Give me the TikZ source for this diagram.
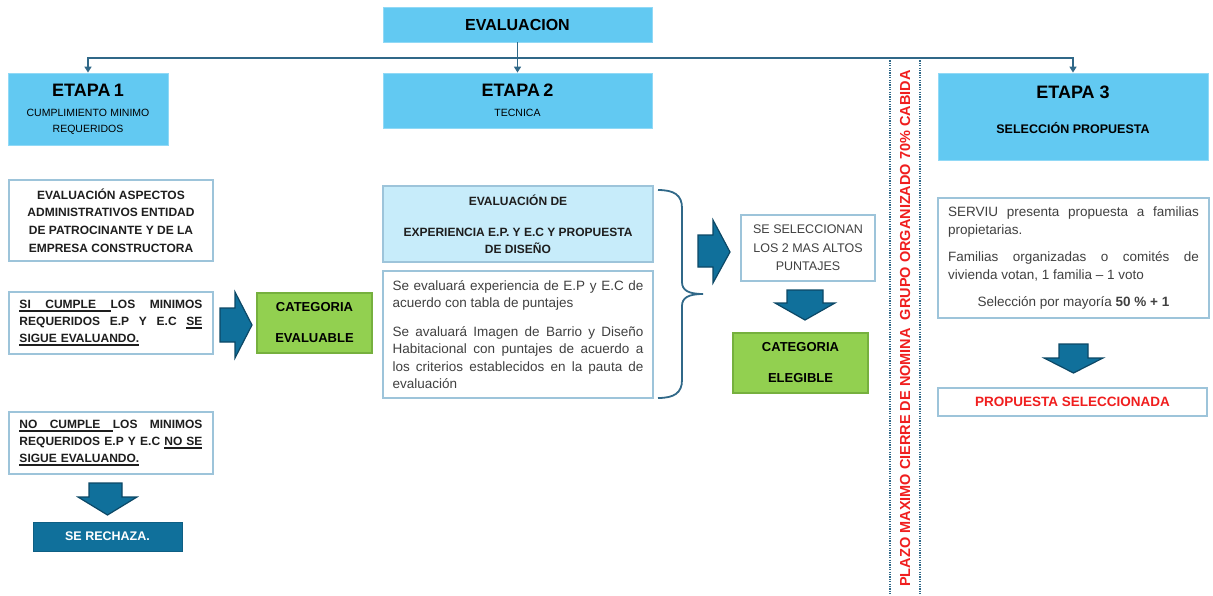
\documentclass[tikz,border=0pt]{standalone}
\usepackage{fontspec}
\setmainfont{Liberation Sans}
\usetikzlibrary{positioning, arrows.meta, calc}
\hyphenpenalty=10000
\exhyphenpenalty=10000

\definecolor{headblue}{RGB}{98,201,242}
\definecolor{lightcyan}{RGB}{199,236,250}
\definecolor{boxline}{RGB}{157,196,218}
\definecolor{evalgreen}{RGB}{146,208,80}
\definecolor{greenline}{RGB}{118,176,62}
\definecolor{arrowblue}{RGB}{16,112,155}
\definecolor{arrowdark}{RGB}{12,72,102}
\definecolor{linkblue}{RGB}{48,104,136}
\definecolor{plazored}{RGB}{240,30,30}
\definecolor{textgray}{RGB}{64,64,64}
\definecolor{titlegray}{RGB}{30,30,30}

% subrayado que sigue a los espacios estirados
\newcommand\ulword[1]{\leavevmode\setbox0\hbox{#1}\rlap{\vrule height -1.6pt depth 2.8pt width \wd0}\box0}
\newcommand\ulgap{\leaders\hrule height -1.6pt depth 2.8pt\hfill}
\newcommand\fullline[1]{\leavevmode\hbox to \linewidth{#1}\par}

\tikzset{
  headbox/.style={fill=headblue, draw=headblue!70!white, line width=0.8pt, align=center, text=black},
  textbox/.style={draw=boxline, line width=1.3pt, fill=white, text=titlegray},
  greenbox/.style={fill=evalgreen, draw=greenline, line width=1.2pt, align=center, text=black,
    font=\fontsize{13}{17}\selectfont\bfseries},
  blockarrow/.style={fill=arrowblue, draw=arrowdark, line width=1.2pt},
  link/.style={draw=linkblue, line width=1.8pt},
  linkarrow/.style={link, -{Triangle[length=6pt, width=7pt]}},
  plazoline/.style={draw=linkblue, line width=1.6pt, dash pattern=on 1.2pt off 1.2pt},
}

\begin{document}
\begin{tikzpicture}[x=1pt, y=-1pt, every node/.style={inner sep=0pt}]
    \useasboundingbox (0,0) rectangle (1213,595);

    % cabecera
    \node[headbox, minimum width=269pt, minimum height=35pt, font=\fontsize{16}{19}\selectfont\bfseries] (eval) at (517.5,24.5) {EVALUACION};
    \node[headbox, minimum width=160pt, minimum height=72pt, text width=150pt] (etapa1) at (88,109)
        {{\fontsize{18}{21}\selectfont\bfseries ETAPA 1\par}\vspace{4.3pt}{\fontsize{10.5}{16}\selectfont CUMPLIMIENTO MINIMO\\REQUERIDOS\par}};
    \node[headbox, minimum width=269pt, minimum height=55pt, text width=259pt] (etapa2) at (517.5,100.5)
        {{\fontsize{18}{21}\selectfont\bfseries ETAPA 2\par}\vspace{4pt}{\fontsize{10.5}{16}\selectfont TECNICA\par}};
    \node[headbox, minimum width=270pt, minimum height=87pt] (etapa3) at (1073,116.5) {};
    \node[anchor=base, font=\fontsize{18}{21}\selectfont\bfseries] (etapa3title) at (1073,98.5) {ETAPA 3};
    \node[anchor=base, font=\fontsize{12.5}{14}\selectfont\bfseries] (etapa3sub) at (1073,133.5) {SELECCIÓN PROPUESTA};

    \coordinate (split) at (517.5,58);
    \draw[link] (eval.south) -- (split);
    \draw[linkarrow] (split) -- (etapa2.north);
    \draw[linkarrow] (split) -| (etapa1.north);
    \draw[linkarrow] (split) -| (etapa3.north);

    % etapa 1
    \node[textbox, minimum width=204pt, minimum height=81pt, align=center, font=\fontsize{12}{17.7}\selectfont\bfseries] (admin) at (111,220.5)
        {EVALUACIÓN ASPECTOS\\ADMINISTRATIVOS ENTIDAD\\DE PATROCINANTE Y DE LA\\EMPRESA CONSTRUCTORA};
    \node[textbox, minimum width=204pt, minimum height=62pt, text width=183pt, align=left, font=\fontsize{12}{17}\selectfont\bfseries] (sicumple) at (111,323)
        {\fullline{\ulword{SI}\ulgap\ulword{CUMPLE}\ulgap LOS\hfill MINIMOS}
         \fullline{REQUERIDOS\hfill E.P\hfill Y\hfill E.C\hfill \ulword{SE}}
         \ulword{SIGUE EVALUANDO.}\par};
    \node[greenbox, minimum width=115pt, minimum height=60pt] (evaluable) at (314.5,323) {CATEGORIA\\[14pt]EVALUABLE};
    \draw[blockarrow] (220,308) -- (235,308) -- (235,292) -- (252,325) -- (235,358) -- (235,342) -- (220,342) -- cycle;

    \node[textbox, minimum width=204pt, minimum height=62pt, text width=183pt, align=left, font=\fontsize{12}{17}\selectfont\bfseries] (nocumple) at (111,443)
        {\fullline{\ulword{NO}\ulgap\ulword{CUMPLE}\ulgap LOS\hfill MINIMOS}
         \fullline{REQUERIDOS\hfill E.P\hfill Y\hfill E.C\hfill \ulword{NO SE}}
         \ulword{SIGUE EVALUANDO.}\par};
    \draw[blockarrow] (89,483) -- (122,483) -- (122,497) -- (137,497) -- (107.5,515) -- (78,497) -- (89,497) -- cycle;
    \node[fill=arrowblue, draw=arrowblue!85!black, line width=0.8pt, minimum width=149pt, minimum height=29pt, text=white, font=\fontsize{12.5}{15}\selectfont\bfseries] (rechaza) at (107.5,536.5) {SE RECHAZA.};

    % etapa 2
    \node[textbox, fill=lightcyan, minimum width=270pt, minimum height=76pt, align=center, font=\fontsize{12}{17}\selectfont\bfseries] (experiencia) at (518,224)
        {EVALUACIÓN DE\\[14pt]EXPERIENCIA E.P. Y E.C Y PROPUESTA\\DE DISEÑO};
    \node[textbox, minimum width=270pt, minimum height=127pt, text width=251pt, align=justify, text=textgray, font=\fontsize{13.5}{17.3}\selectfont] (puntajes) at (518,334.5)
        {Se evaluará experiencia de E.P y E.C de acuerdo con tabla de puntajes\par\vspace{11.5pt}
         Se avaluará Imagen de Barrio y Diseño Habitacional con puntajes de acuerdo a los criterios establecidos en la pauta de evaluación};
    \draw[link] (658,190) .. controls (674,190) and (682,195) .. (682,208) -- (682,282)
        .. controls (682,290) and (688,294) .. (703,294)
        .. controls (688,294) and (682,298) .. (682,306) -- (682,380)
        .. controls (682,393) and (674,398) .. (658,398);
    \draw[blockarrow] (698,235) -- (713,235) -- (713,220) -- (730,252) -- (713,283) -- (713,267) -- (698,267) -- cycle;
    \node[textbox, minimum width=134pt, minimum height=66pt, align=center, text=textgray, font=\fontsize{12.5}{18.5}\selectfont] (seleccionan) at (808,248)
        {SE SELECCIONAN\\LOS 2 MAS ALTOS\\PUNTAJES};
    \draw[blockarrow] (787,290) -- (823,290) -- (823,303) -- (835,303) -- (805,320) -- (775,303) -- (787,303) -- cycle;
    \node[greenbox, minimum width=135pt, minimum height=60pt] (elegible) at (800.5,363) {CATEGORIA\\[14pt]ELEGIBLE};

    % plazo
    \draw[plazoline] (890,58) -- (890,595);
    \draw[plazoline] (920,58) -- (920,595);
    \node[rotate=90, text=plazored, font=\fontsize{14.5}{17}\selectfont\bfseries] (plazo) at (905,328.5)
        {PLAZO MAXIMO CIERRE DE NOMINA\ \ GRUPO ORGANIZADO 70\% CABIDA};

    % etapa 3
    \node[textbox, minimum width=271pt, minimum height=120pt, text width=251pt, align=justify, text=textgray, font=\fontsize{13.5}{18}\selectfont] (serviu) at (1073.5,258)
        {SERVIU presenta propuesta a familias propietarias.\par\vspace{9pt}
         Familias organizadas o comités de vivienda votan, 1 familia – 1 voto\par\vspace{9pt}
         {\centering Selección por mayoría \textbf{50 \% + 1}\par}};
    \draw[blockarrow] (1059,344) -- (1088,344) -- (1088,358) -- (1103,358) -- (1073.5,373) -- (1044,358) -- (1059,358) -- cycle;
    \node[textbox, minimum width=269pt, minimum height=28pt, text=plazored, font=\fontsize{13.5}{16}\selectfont\bfseries] (seleccionada) at (1072.5,402) {PROPUESTA SELECCIONADA};
\end{tikzpicture}
\end{document}
